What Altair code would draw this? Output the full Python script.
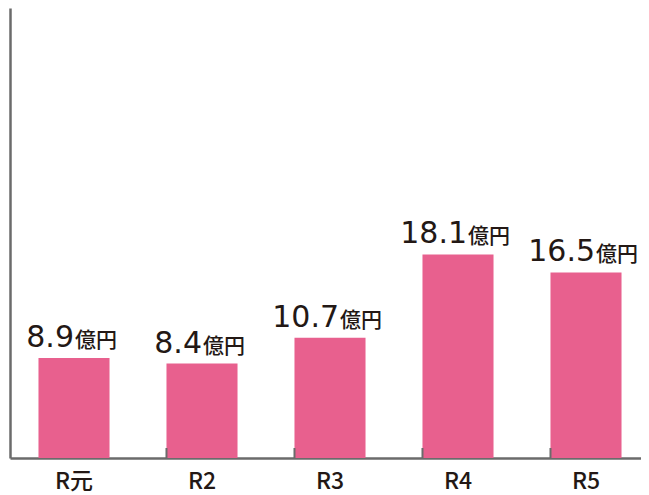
import altair as alt
import pandas as pd

categories = ["R元", "R2", "R3", "R4", "R5"]
values = [8.9, 8.4, 10.7, 18.1, 16.5]
unit = "億円"
tick_categories = categories[1:]

df = pd.DataFrame({"cat": categories, "value": values})
df["label"] = [f"{v:.1f}" for v in values]
df["unit"] = unit
ticks_df = pd.DataFrame({"cat": tick_categories})

H = 450
W = 631
AXIS = "#6b6b6b"
INK = "#231815"
JP = "Noto Sans CJK JP"
NUM = "DejaVu Sans"

xscale = alt.Scale(domain=categories, range=[0, 640], paddingInner=0.445, paddingOuter=0.2225)
yscale = alt.Scale(domain=[0, 40], nice=False)

x_enc = alt.X("cat:N", scale=xscale, sort=categories, title=None,
              axis=alt.Axis(labelAngle=0, ticks=False, tickSize=0, domainColor=AXIS,
                            domainWidth=2.5, labelFont=JP, labelFontSize=23,
                            labelFontWeight=500,
                            labelColor=INK, labelBaseline="alphabetic", labelPadding=30,
                            grid=False))
y_enc = alt.Y("value:Q", scale=yscale, title=None,
              axis=alt.Axis(labels=False, ticks=False, grid=False, domainColor=AXIS,
                            domainWidth=2.5))

base = alt.Chart(df)
xs = alt.X("cat:N", scale=xscale, sort=categories)
ys = alt.Y("value:Q", scale=yscale)

bars = base.mark_bar(color="#E8608E").encode(x=x_enc, y=y_enc)

layers = [bars]
for n, shift in [(3, 0), (4, 9)]:
    grp = base.transform_filter(f"length(datum.label) == {n}")
    layers.append(grp.mark_text(align="right", baseline="alphabetic", dx=shift, dy=-11,
                                font=NUM, fontSize=30, color=INK).encode(
        x=xs, y=ys, text="label:N"))
    layers.append(grp.mark_text(align="left", baseline="alphabetic", dx=shift + 1, dy=-11,
                                font=JP, fontSize=21, fontWeight=500, color=INK).encode(
        x=xs, y=ys, text="unit:N"))

ticks = alt.Chart(ticks_df).mark_rule(color=AXIS, strokeWidth=2).encode(
    x=alt.X("cat:N", scale=xscale, sort=categories, bandPosition=0),
    y=alt.value(H - 10),
    y2=alt.value(H),
)
layers.insert(1, ticks)

chart = alt.layer(*layers).properties(
    width=W, height=H,
    autosize=alt.AutoSizeParams(type="none"),
    padding={"left": 2, "top": 0, "right": 0, "bottom": 40},
).configure_view(stroke=None)

chart.save("out.html", embed_options={"renderer": "svg", "actions": False})
